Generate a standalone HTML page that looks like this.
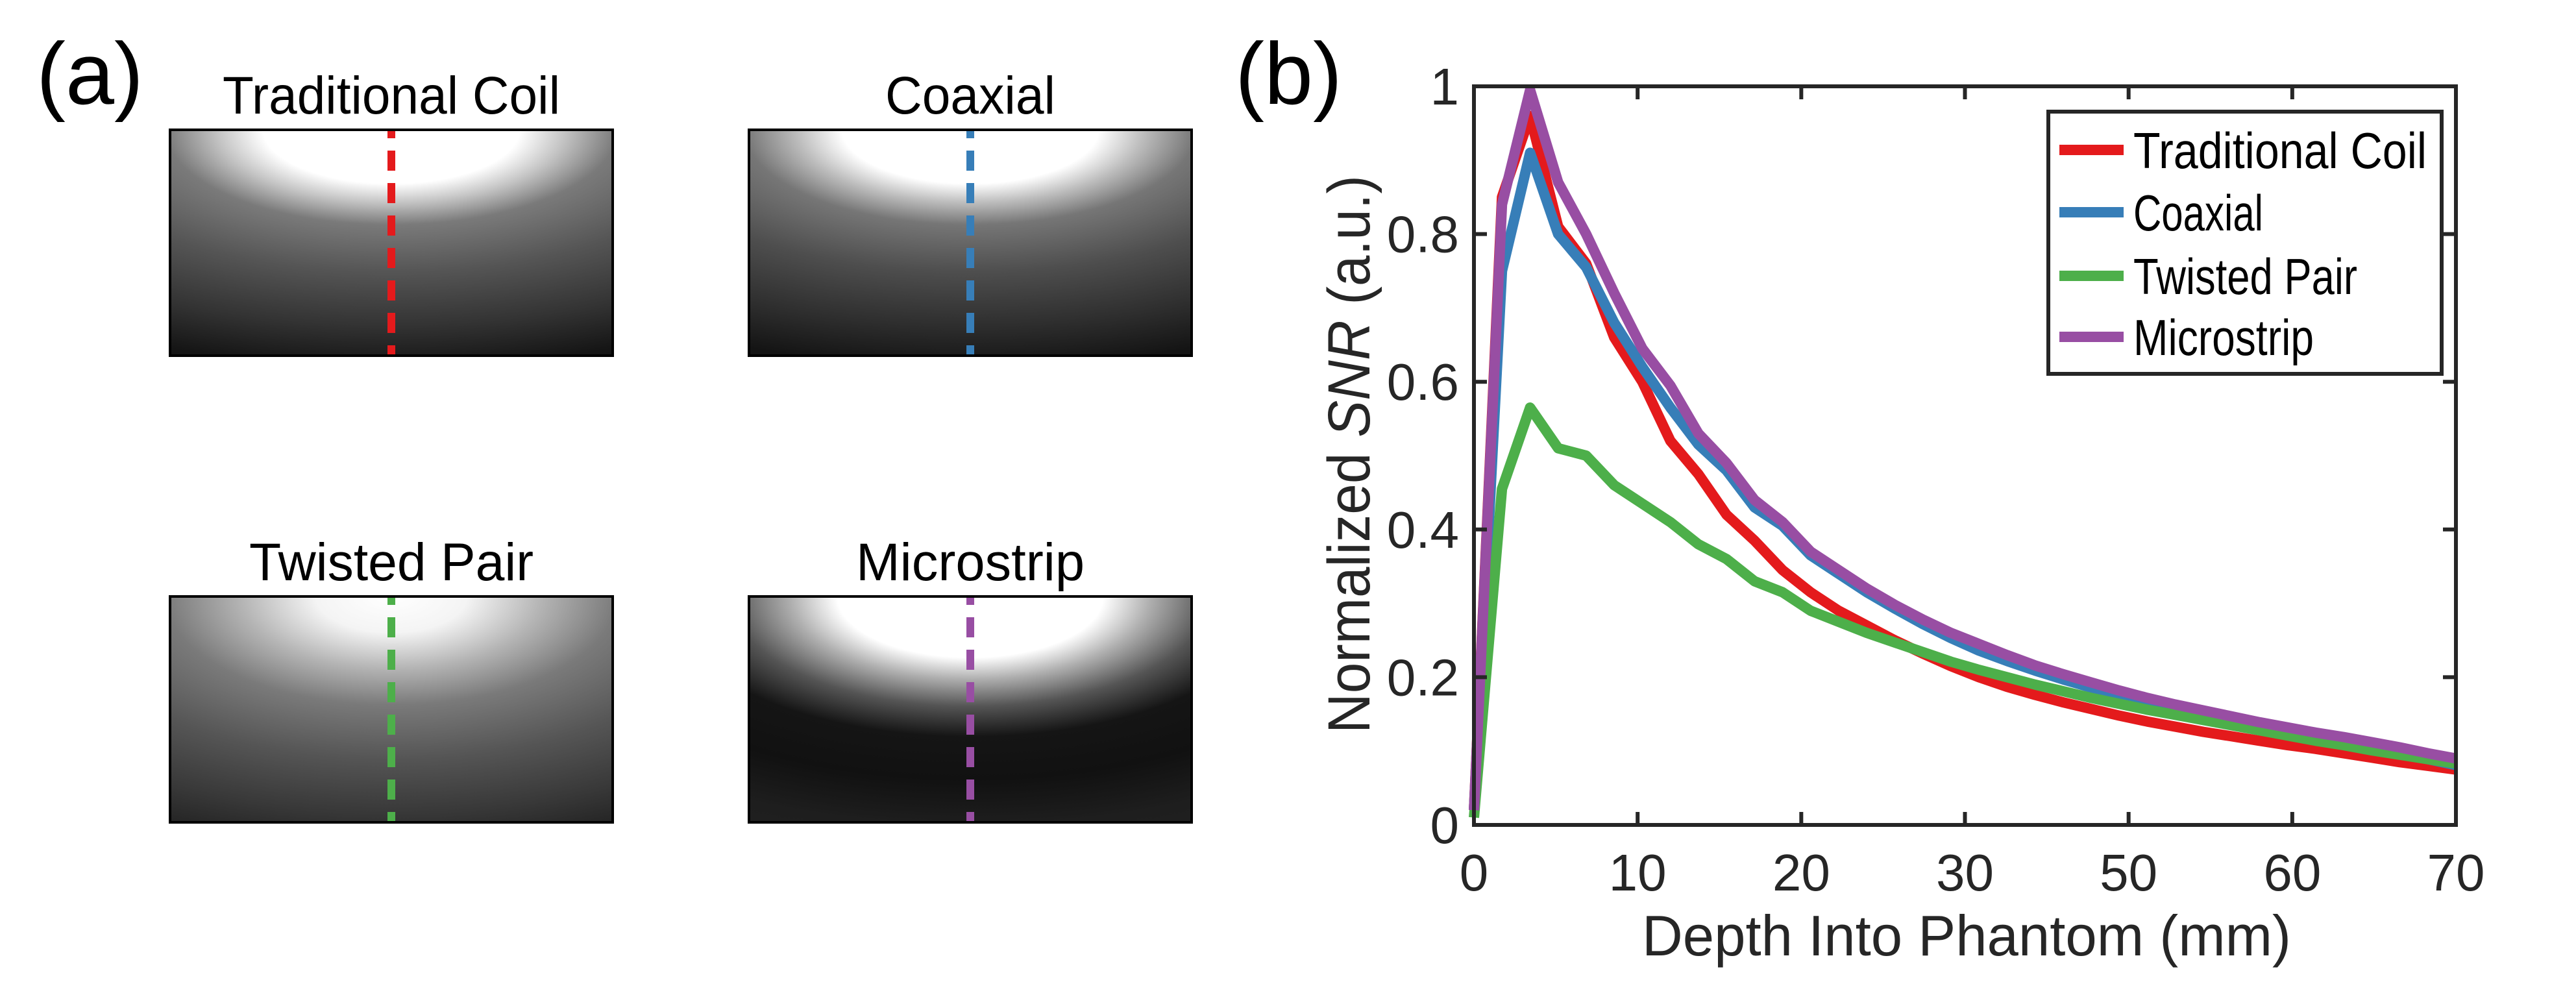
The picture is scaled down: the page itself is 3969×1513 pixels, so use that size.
<!DOCTYPE html>
<html><head><meta charset="utf-8"><style>
html,body{margin:0;padding:0;background:#fff;}
svg{display:block;font-family:"Liberation Sans",Arial,sans-serif;}
</style></head><body>
<svg id="fig" width="3969" height="1513" viewBox="0 0 3969 1513" xmlns="http://www.w3.org/2000/svg">
<defs>
<radialGradient id="gTrad" gradientUnits="userSpaceOnUse" cx="0" cy="0" r="1" gradientTransform="translate(0.5 0) scale(1.7 1.4)">
<stop offset="0" stop-color="#fff"/><stop offset="0.17" stop-color="#fff"/><stop offset="0.23" stop-color="#c4c4c4"/><stop offset="0.3" stop-color="#7a7a7a"/><stop offset="0.45" stop-color="#555"/><stop offset="0.62" stop-color="#333"/><stop offset="0.75" stop-color="#151515"/><stop offset="1" stop-color="#0c0c0c"/></radialGradient>
<radialGradient id="gCoax" gradientUnits="userSpaceOnUse" cx="0" cy="0" r="1" gradientTransform="translate(0.5 0) scale(1.7 1.4)">
<stop offset="0" stop-color="#fff"/><stop offset="0.17" stop-color="#fff"/><stop offset="0.23" stop-color="#bdbdbd"/><stop offset="0.3" stop-color="#767676"/><stop offset="0.45" stop-color="#4e4e4e"/><stop offset="0.62" stop-color="#2e2e2e"/><stop offset="0.75" stop-color="#141414"/><stop offset="1" stop-color="#0c0c0c"/></radialGradient>
<radialGradient id="gTwist" gradientUnits="userSpaceOnUse" cx="0" cy="0" r="1" gradientTransform="translate(0.5 0) scale(1.7 1.6)">
<stop offset="0" stop-color="#fff"/><stop offset="0.1" stop-color="#f4f4f4"/><stop offset="0.2" stop-color="#b4b4b4"/><stop offset="0.3" stop-color="#7a7a7a"/><stop offset="0.45" stop-color="#555"/><stop offset="0.6" stop-color="#383838"/><stop offset="0.75" stop-color="#181818"/><stop offset="1" stop-color="#0e0e0e"/></radialGradient>
<radialGradient id="gMicro" gradientUnits="userSpaceOnUse" cx="0" cy="0" r="1" gradientTransform="translate(0.5 0) scale(1.5 1.35)">
<stop offset="0" stop-color="#fff"/><stop offset="0.2" stop-color="#fff"/><stop offset="0.27" stop-color="#b0b0b0"/><stop offset="0.36" stop-color="#555"/><stop offset="0.46" stop-color="#151515"/><stop offset="0.6" stop-color="#111"/><stop offset="0.75" stop-color="#1e1e1e"/><stop offset="1" stop-color="#242424"/></radialGradient>
</defs>
<g id="panelA"></g>
<g id="panelB"></g>
</svg>
<script>
// ---- Chart data (panel b) ----
const xMax = 60;
const depthStep = 60/35;
const xTicks = [0,10,20,30,40,50,60];
const xTickLabels = ["0","10","20","30","50","60","70"];
const yTicks = [0,0.2,0.4,0.6,0.8,1];
const yTickLabels = ["0","0.2","0.4","0.6","0.8","1"];
const seriesNames = ["Traditional Coil","Coaxial","Twisted Pair","Microstrip"];
const seriesColors = ["#e41a1c","#377eb8","#4daf4a","#984ea3"];
const tradCoil = [0.02,0.85,0.96,0.81,0.76,0.66,0.60,0.52,0.475,0.42,0.385,0.345,0.315,0.29,0.27,0.25,0.232,0.215,0.2,0.187,0.176,0.166,0.157,0.148,0.14,0.133,0.126,0.12,0.114,0.108,0.103,0.097,0.091,0.085,0.08,0.075];
const coaxial = [0.02,0.75,0.91,0.80,0.755,0.68,0.62,0.565,0.515,0.48,0.43,0.405,0.365,0.34,0.315,0.293,0.272,0.253,0.236,0.222,0.209,0.197,0.186,0.176,0.167,0.158,0.15,0.142,0.134,0.127,0.12,0.113,0.105,0.097,0.089,0.081];
const twistedPair = [0.01,0.455,0.565,0.51,0.5,0.46,0.435,0.41,0.38,0.36,0.33,0.315,0.29,0.275,0.26,0.247,0.234,0.221,0.21,0.2,0.19,0.181,0.172,0.164,0.156,0.149,0.142,0.135,0.128,0.121,0.114,0.108,0.101,0.095,0.089,0.083];
const microstrip = [0.02,0.84,0.995,0.87,0.8,0.72,0.645,0.595,0.53,0.49,0.44,0.41,0.37,0.345,0.32,0.298,0.278,0.26,0.245,0.23,0.216,0.204,0.193,0.182,0.172,0.163,0.155,0.147,0.139,0.132,0.125,0.119,0.112,0.105,0.097,0.09];
const allSeries = [tradCoil, coaxial, twistedPair, microstrip];

const NS = "http://www.w3.org/2000/svg";
function mk(tag, attrs, parent, text){
  const e = document.createElementNS(NS, tag);
  for (const k in attrs) e.setAttribute(k, attrs[k]);
  if (text !== undefined) e.textContent = text;
  parent.appendChild(e);
  return e;
}

// ---- Panel A ----
const pa = document.getElementById('panelA');
let lab = mk('text', {x:56, y:160, 'font-size':135, fill:'#000'}, pa, '(a)');


const maps = [
  {name:'Traditional Coil', key:'traditional-coil', x:262, y:200, grad:'gTrad', color:'#e41a1c', tl:520},
  {name:'Coaxial', key:'coaxial', x:1154, y:200, grad:'gCoax', color:'#377eb8', tl:262},
  {name:'Twisted Pair', key:'twisted-pair', x:262, y:919, grad:'gTwist', color:'#4daf4a', tl:438},
  {name:'Microstrip', key:'microstrip', x:1154, y:919, grad:'gMicro', color:'#984ea3', tl:352}
];
const mw = 682, mh = 348;
maps.forEach(m => {
  const g = mk('g', {}, pa);
  
  
  const t = mk('text', {x:m.x+mw/2, y:m.y-25, 'font-size':82, 'text-anchor':'middle', fill:'#000', textLength:m.tl, lengthAdjust:'spacingAndGlyphs'}, g, m.name);
  
  
  const inner = mk('g', {transform:`translate(${m.x} ${m.y}) scale(${mw} ${mh})`}, g);
  const r = mk('rect', {x:0, y:0, width:1, height:1, fill:`url(#${m.grad})`}, inner);
  
  
  const b = mk('rect', {x:m.x, y:m.y, width:mw, height:mh, fill:'none', stroke:'#000', 'stroke-width':4}, g);
  
  
  const d = mk('line', {x1:m.x+mw/2, y1:m.y+2, x2:m.x+mw/2, y2:m.y+mh-2, stroke:m.color, 'stroke-width':12, 'stroke-dasharray':'31 19', 'stroke-dashoffset':'20'}, g);
  
  
});

// ---- Panel B ----
const pb = document.getElementById('panelB');
const L = 2271, R = 3784, T = 133, B = 1271;
const xs = v => L + (v/xMax)*(R-L);
const ys = v => B - v*(B-T);
lab = mk('text', {x:1903, y:160, 'font-size':135, fill:'#000'}, pb, '(b)');



const linesG = mk('g', {}, pb);


allSeries.forEach((s, si) => {
  const pts = s.map((v, i) => `${xs(i*depthStep).toFixed(1)},${ys(v).toFixed(1)}`).join(' ');
  const pl = mk('polyline', {points:pts, fill:'none', stroke:seriesColors[si], 'stroke-width':16, 'stroke-linejoin':'round'}, linesG);
  
  
});

const ax = mk('g', {}, pb);


const box = mk('rect', {x:L, y:T, width:R-L, height:B-T, fill:'none', stroke:'#262626', 'stroke-width':6}, ax);


xTicks.forEach((v, i) => {
  const x = xs(v);
  const t1 = mk('line', {x1:x, y1:B, x2:x, y2:B-20, stroke:'#262626', 'stroke-width':6}, ax);
  
  
  const t2 = mk('line', {x1:x, y1:T, x2:x, y2:T+20, stroke:'#262626', 'stroke-width':6}, ax);
  
  
  const tl = mk('text', {x:x, y:1372, 'font-size':80, 'text-anchor':'middle', fill:'#262626'}, ax, xTickLabels[i]);
  
  
});
yTicks.forEach((v, i) => {
  const y = ys(v);
  const t1 = mk('line', {x1:L, y1:y, x2:L+20, y2:y, stroke:'#262626', 'stroke-width':6}, ax);
  
  
  const t2 = mk('line', {x1:R, y1:y, x2:R-20, y2:y, stroke:'#262626', 'stroke-width':6}, ax);
  
  
  const tl = mk('text', {x:2248, y:y+28, 'font-size':80, 'text-anchor':'end', fill:'#262626'}, ax, yTickLabels[i]);
  
  
});
const xt = mk('text', {x:3030, y:1472, 'font-size':88, 'text-anchor':'middle', fill:'#262626', textLength:1000, lengthAdjust:'spacingAndGlyphs'}, pb, 'Depth Into Phantom (mm)');


const yt = mk('text', {x:0, y:0, 'font-size':92, 'text-anchor':'middle', fill:'#262626', transform:'translate(2110 700) rotate(-90)', textLength:860, lengthAdjust:'spacingAndGlyphs'}, pb);


mk('tspan', {}, yt, 'Normalized ');
mk('tspan', {'font-style':'italic'}, yt, 'SNR');
mk('tspan', {}, yt, ' (a.u.)');

// legend
const lg = mk('g', {}, pb);


const lb = mk('rect', {x:3156, y:172, width:606, height:404, fill:'#fff', stroke:'#262626', 'stroke-width':6}, lg);


const rowY = [259, 355, 453, 547];
const textLens = [452, 200, 345, 278];
seriesNames.forEach((n, i) => {
  const e = mk('g', {}, lg);
  
  
  mk('line', {x1:3173, y1:rowY[i]-28, x2:3272, y2:rowY[i]-28, stroke:seriesColors[i], 'stroke-width':16}, e);
  mk('text', {x:3287, y:rowY[i], 'font-size':78, fill:'#000', textLength:textLens[i], lengthAdjust:'spacingAndGlyphs'}, e, n);
});
</script>
</body></html>
